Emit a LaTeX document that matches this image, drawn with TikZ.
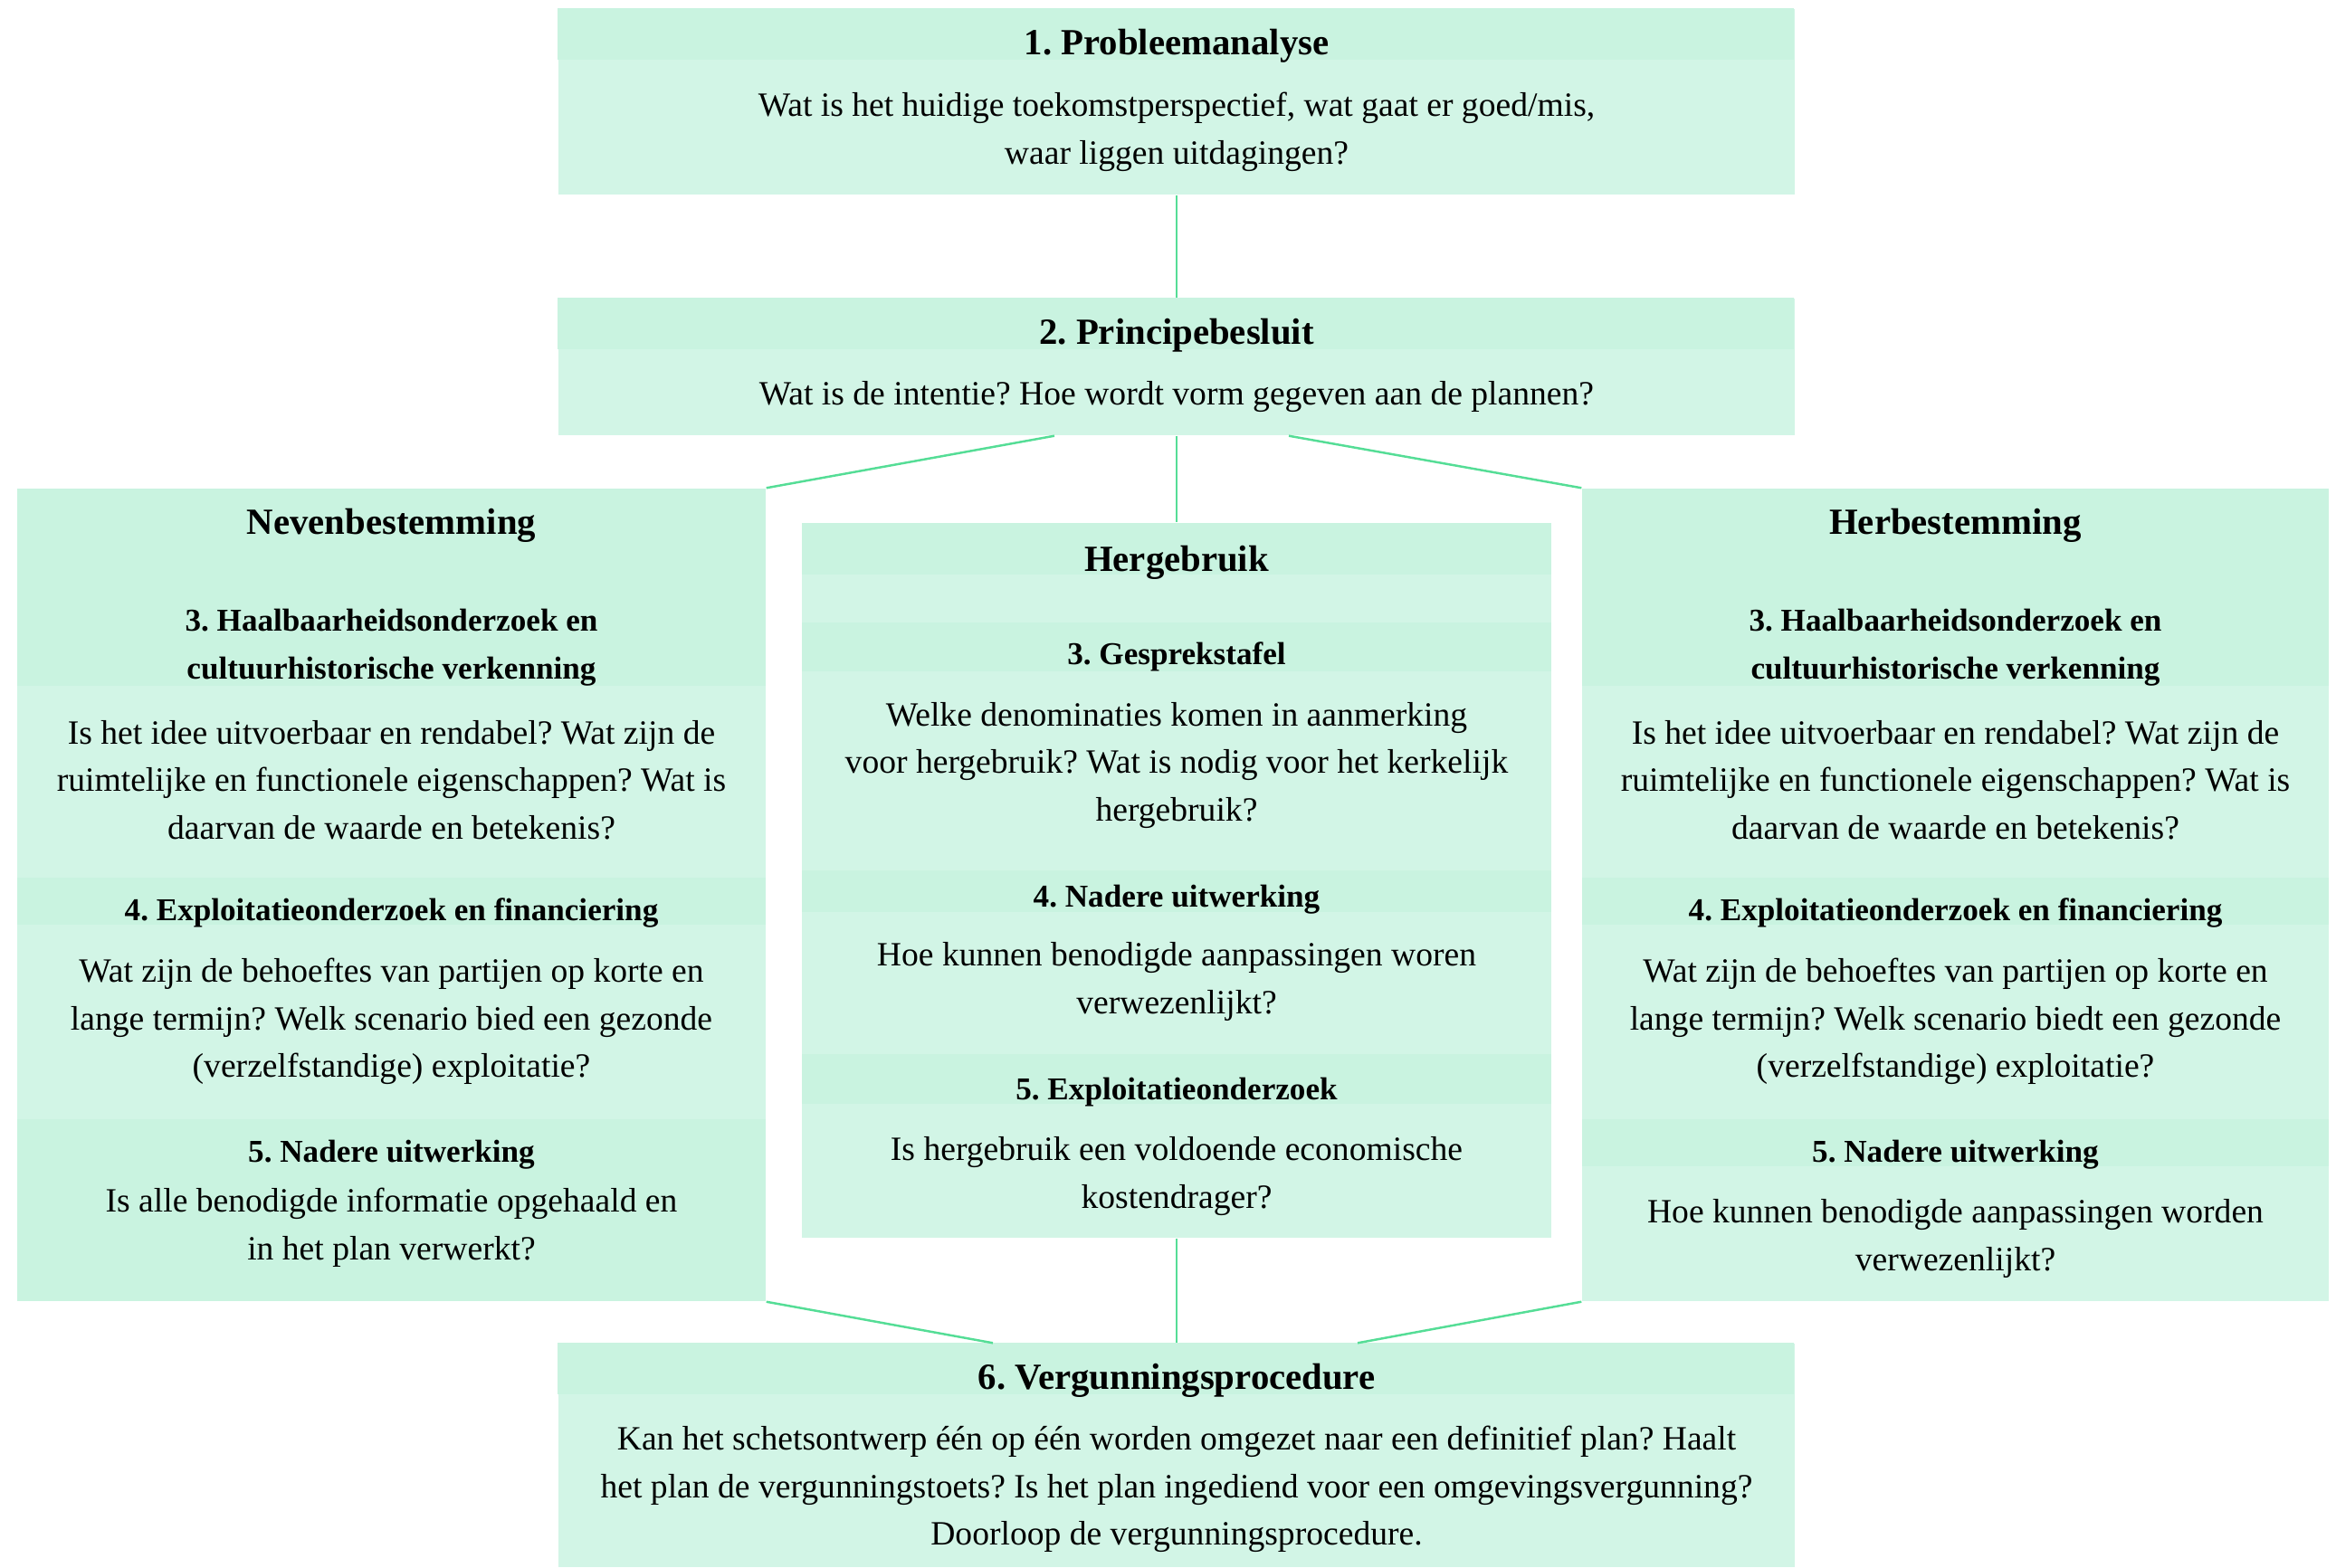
\documentclass[tikz,border=0pt]{standalone}
\usepackage{fontspec}
\setmainfont{Liberation Serif}
\usetikzlibrary{calc}
\definecolor{mintdark}{RGB}{201,243,224}
\definecolor{mintlight}{RGB}{210,245,230}
\definecolor{linegreen}{RGB}{85,221,150}
\frenchspacing

\begin{document}
\begin{tikzpicture}[
    box/.style={rectangle, draw=none, fill=mintlight, inner sep=0pt},
    band/.style={fill=mintdark},
    title/.style={font=\fontsize{11.6}{15}\selectfont\bfseries, align=center},
    head/.style={font=\fontsize{10}{15}\selectfont\bfseries, align=center},
    txt/.style={font=\fontsize{10.7}{15}\selectfont, align=center},
    link/.style={draw=linegreen, line width=0.7pt}
]
\useasboundingbox (0,0) rectangle (25.81,-17.32);

% 1 and 2
\node[box, minimum width=13.66cm, minimum height=2.05cm] (probleem) at (13.00,-1.125) {};
\fill[band] (probleem.north west) rectangle ++(13.66,-0.57);
\node[title] (probleem-t) at (13.00,-0.51) {1. Probleemanalyse};
\node[txt] (probleem-v) at (13.00,-1.455) {Wat is het huidige toekomstperspectief, wat gaat er goed/mis,\\waar liggen uitdagingen?};

\node[box, minimum width=13.66cm, minimum height=1.51cm] (principe) at (13.00,-4.055) {};
\fill[band] (principe.north west) rectangle ++(13.66,-0.57);
\node[title] (principe-t) at (13.00,-3.71) {2. Principebesluit};
\node[txt] (principe-v) at (13.00,-4.39) {Wat is de intentie? Hoe wordt vorm gegeven aan de plannen?};

% Nevenbestemming
\node[box, minimum width=8.27cm, minimum height=8.98cm] (neven) at (4.325,-9.89) {};
\fill[band] (0.19,-5.40) rectangle (8.46,-7.58);
\fill[band] (0.19,-9.70) rectangle (8.46,-10.22);
\fill[band] (0.19,-12.37) rectangle (8.46,-14.38);
\node[title] (neven-t) at (4.325,-5.81) {Nevenbestemming};
\node[head] (neven-h3) at (4.325,-7.16) {3. Haalbaarheidsonderzoek en\\cultuurhistorische verkenning};
\node[txt] (neven-v3) at (4.325,-8.62) {Is het idee uitvoerbaar en rendabel? Wat zijn de\\ruimtelijke en functionele eigenschappen? Wat is\\daarvan de waarde en betekenis?};
\node[head] (neven-h4) at (4.325,-10.09) {4. Exploitatieonderzoek en financiering};
\node[txt] (neven-v4) at (4.325,-11.29) {Wat zijn de behoeftes van partijen op korte en\\lange termijn? Welk scenario bied een gezonde\\(verzelfstandige) exploitatie?};
\node[head] (neven-h5) at (4.325,-12.76) {5. Nadere uitwerking};
\node[txt] (neven-v5) at (4.325,-13.57) {Is alle benodigde informatie opgehaald en\\in het plan verwerkt?};

% Hergebruik
\node[box, minimum width=8.28cm, minimum height=7.90cm] (hergebruik) at (13.00,-9.73) {};
\fill[band] (8.86,-5.78) rectangle (17.14,-6.35);
\fill[band] (8.86,-6.88) rectangle (17.14,-7.42);
\fill[band] (8.86,-9.62) rectangle (17.14,-10.08);
\fill[band] (8.86,-11.65) rectangle (17.14,-12.20);
\node[title] (hergebruik-t) at (13.00,-6.22) {Hergebruik};
\node[head] (hergebruik-h3) at (13.00,-7.26) {3. Gesprekstafel};
\node[txt] (hergebruik-v3) at (13.00,-8.46) {Welke denominaties komen in aanmerking\\voor hergebruik? Wat is nodig voor het kerkelijk\\hergebruik?};
\node[head] (hergebruik-h4) at (13.00,-9.94) {4. Nadere uitwerking};
\node[txt] (hergebruik-v4) at (13.00,-10.85) {Hoe kunnen benodigde aanpassingen woren\\verwezenlijkt?};
\node[head] (hergebruik-h5) at (13.00,-12.07) {5. Exploitatieonderzoek};
\node[txt] (hergebruik-v5) at (13.00,-13.00) {Is hergebruik een voldoende economische\\kostendrager?};

% Herbestemming
\node[box, minimum width=8.25cm, minimum height=8.98cm] (herbest) at (21.605,-9.89) {};
\fill[band] (17.48,-5.40) rectangle (25.73,-7.58);
\fill[band] (17.48,-9.70) rectangle (25.73,-10.22);
\fill[band] (17.48,-12.37) rectangle (25.73,-12.89);
\node[title] (herbest-t) at (21.605,-5.81) {Herbestemming};
\node[head] (herbest-h3) at (21.605,-7.16) {3. Haalbaarheidsonderzoek en\\cultuurhistorische verkenning};
\node[txt] (herbest-v3) at (21.605,-8.62) {Is het idee uitvoerbaar en rendabel? Wat zijn de\\ruimtelijke en functionele eigenschappen? Wat is\\daarvan de waarde en betekenis?};
\node[head] (herbest-h4) at (21.605,-10.09) {4. Exploitatieonderzoek en financiering};
\node[txt] (herbest-v4) at (21.605,-11.29) {Wat zijn de behoeftes van partijen op korte en\\lange termijn? Welk scenario biedt een gezonde\\(verzelfstandige) exploitatie?};
\node[head] (herbest-h5) at (21.605,-12.76) {5. Nadere uitwerking};
\node[txt] (herbest-v5) at (21.605,-13.69) {Hoe kunnen benodigde aanpassingen worden\\verwezenlijkt?};

% 6
\node[box, minimum width=13.66cm, minimum height=2.47cm] (vergunning) at (13.00,-16.085) {};
\fill[band] (vergunning.north west) rectangle ++(13.66,-0.57);
\node[title] (vergunning-t) at (13.00,-15.26) {6. Vergunningsprocedure};
\node[txt] (vergunning-v) at (13.00,-16.46) {Kan het schetsontwerp één op één worden omgezet naar een definitief plan? Haalt\\het plan de vergunningstoets? Is het plan ingediend voor een omgevingsvergunning?\\Doorloop de vergunningsprocedure.};

% lijnen
\draw[link] (probleem.south) -- (principe.north);
\draw[link] (principe.south) -- (hergebruik.north);
\draw[link] ($(principe.south)+(-1.35,0)$) -- (neven.north east);
\draw[link] ($(principe.south)+(1.24,0)$) -- (herbest.north west);
\draw[link] (hergebruik.south) -- (vergunning.north);
\draw[link] (neven.south east) -- ($(vergunning.north)+(-2.03,0)$);
\draw[link] (herbest.south west) -- ($(vergunning.north)+(2.00,0)$);
\end{tikzpicture}
\end{document}
